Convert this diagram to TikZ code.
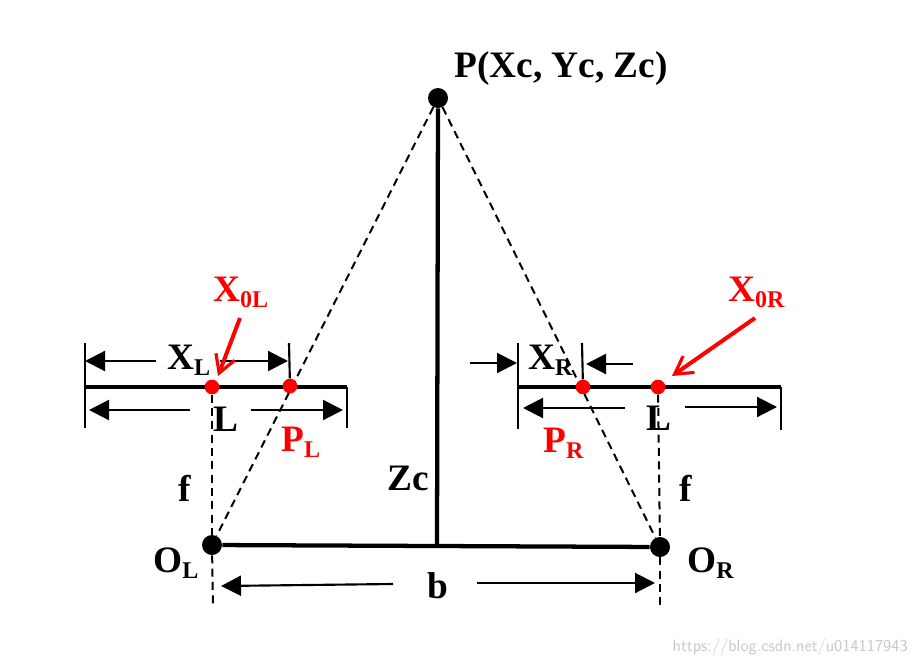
\documentclass[tikz,border=0pt]{standalone}
\usepackage{fontspec}
\setmainfont{Liberation Serif}
\usetikzlibrary{arrows.meta}
\tikzset{
  lbl/.style={anchor=base west,inner sep=0pt,font=\fontsize{28}{30}\selectfont\bfseries},
  redlbl/.style={lbl,text=red},
  blackdot/.style={circle,fill=black,inner sep=0pt,minimum size=15pt},
  reddot/.style={circle,fill=red,inner sep=0pt,minimum size=11pt},
  bar/.style={line width=3.2pt},
  tick/.style={line width=1.6pt},
  ray/.style={line width=1.5pt,dash pattern=on 6pt off 4pt},
  dim/.style={line width=1.6pt,-{Triangle[length=15pt,width=15pt]}},
  pointer/.style={red,line width=3pt,-{Straight Barb[length=13pt,width=15pt,line width=2.4pt]}}
}
\newcommand{\subs}[1]{\raisebox{-4.5pt}{\fontsize{18}{19}\selectfont #1}}
\begin{document}
\begin{tikzpicture}[x=0.75pt,y=-0.75pt]
   \useasboundingbox (0,0) rectangle (918,665);
   % points
   \node[blackdot] (P) at (438,98) {};
   \node[blackdot] (OL) at (212,545) {};
   \node[blackdot] (OR) at (660,547) {};
   \coordinate (Foot) at (437,546);
   \coordinate (OLend) at (213,608);
   \coordinate (ORend) at (660,608);
   \draw[ray] (P) -- (OL);
   \draw[ray] (P) -- (OR);
   % left image plane
   \coordinate (BarLa) at (85,387);
   \coordinate (BarLb) at (347,387);
   \coordinate (TickLa) at (85,343);
   \coordinate (TickLb) at (85,428);
   \coordinate (TickLc) at (347,428);
   \coordinate (TickLd) at (289,343);
   % right image plane
   \coordinate (BarRa) at (518,387);
   \coordinate (BarRb) at (781,387);
   \coordinate (TickRa) at (518,343);
   \coordinate (TickRb) at (518,429);
   \coordinate (TickRc) at (781,430);
   \coordinate (TickRd) at (582,343);
   \draw[bar] (BarLa) -- (BarLb);
   \draw[bar] (BarRa) -- (BarRb);
   \node[reddot] (X0L) at (212,387) {};
   \node[reddot] (PL) at (290,386) {};
   \node[reddot] (PR) at (583,387) {};
   \node[reddot] (X0R) at (658,387) {};
   \draw[bar] (OL) -- (OR);
   \draw[bar] (P) -- (Foot);
   \draw[ray] (X0L) -- (OL);
   \draw[ray] (OL) -- (OLend);
   \draw[ray] (X0R) -- (OR);
   \draw[ray] (OR) -- (ORend);
   \draw[tick] (TickLa) -- (TickLb);
   \draw[tick] (BarLb) -- (TickLc);
   \draw[tick] (TickLd) -- (PL);
   \draw[tick] (TickRa) -- (TickRb);
   \draw[tick] (BarRb) -- (TickRc);
   \draw[tick] (TickRd) -- (PR);
   % dimension arrows, left
   \coordinate (XLa) at (156,361);
   \coordinate (XLb) at (85,361);
   \coordinate (XLc) at (220,361);
   \coordinate (XLd) at (288,361);
   \coordinate (WLa) at (190,410);
   \coordinate (WLb) at (89,410);
   \coordinate (WLc) at (251,410);
   \coordinate (WLd) at (343,410);
   \draw[dim] (XLa) -- (XLb);
   \draw[dim] (XLc) -- (XLd);
   \draw[dim] (WLa) -- (WLb);
   \draw[dim] (WLc) -- (WLd);
   % dimension arrows, right
   \coordinate (XRa) at (470,363);
   \coordinate (XRb) at (517,363);
   \coordinate (XRc) at (633,364);
   \coordinate (XRd) at (586,364);
   \coordinate (WRa) at (625,408);
   \coordinate (WRb) at (523,408);
   \coordinate (WRc) at (685,407);
   \coordinate (WRd) at (777,407);
   \draw[dim] (XRa) -- (XRb);
   \draw[dim] (XRc) -- (XRd);
   \draw[dim] (WRa) -- (WRb);
   \draw[dim] (WRc) -- (WRd);
   % baseline arrows
   \coordinate (Ba) at (393,584);
   \coordinate (Bb) at (221,586);
   \coordinate (Bc) at (477,583);
   \coordinate (Bd) at (655,583);
   \draw[dim] (Ba) -- (Bb);
   \draw[dim] (Bc) -- (Bd);
   % red pointers
   \coordinate (PtrLa) at (240,318);
   \coordinate (PtrLb) at (218,376);
   \coordinate (PtrRa) at (755,318);
   \coordinate (PtrRb) at (672,376);
   \draw[pointer] (PtrLa) -- (PtrLb);
   \draw[pointer] (PtrRa) -- (PtrRb);
   % labels
   \node[lbl] (Plbl) at (454,77) {P(Xc, Yc, Zc)};
   \node[redlbl] (X0Llbl) at (213,301) {X\subs{0L}};
   \node[redlbl] (X0Rlbl) at (728,301) {X\subs{0R}};
   \node[lbl] (XLlbl) at (167,369) {X\subs{L}};
   \node[lbl] (XRlbl) at (528,369) {X\subs{R}};
   \node[lbl] (LLlbl) at (213,431) {L};
   \node[lbl] (LRlbl) at (646,430) {L};
   \node[redlbl] (PLlbl) at (281,451) {P\subs{L}};
   \node[redlbl] (PRlbl) at (543,452) {P\subs{R}};
   \node[lbl] (fLlbl) at (178,501) {f};
   \node[lbl] (fRlbl) at (679,501) {f};
   \node[lbl] (Zclbl) at (387,490) {Zc};
   \node[lbl] (OLlbl) at (153,572) {O\subs{L}};
   \node[lbl] (ORlbl) at (687,572) {O\subs{R}};
   \node[lbl] (blbl) at (427,598) {b};
   \node[anchor=base east,inner sep=0pt,text=black!22,font=\fontfamily{lmss}\fontsize{12.5}{14}\selectfont] (mark) at (908,651) {https://blog.csdn.net/u014117943};
\end{tikzpicture}
\end{document}
